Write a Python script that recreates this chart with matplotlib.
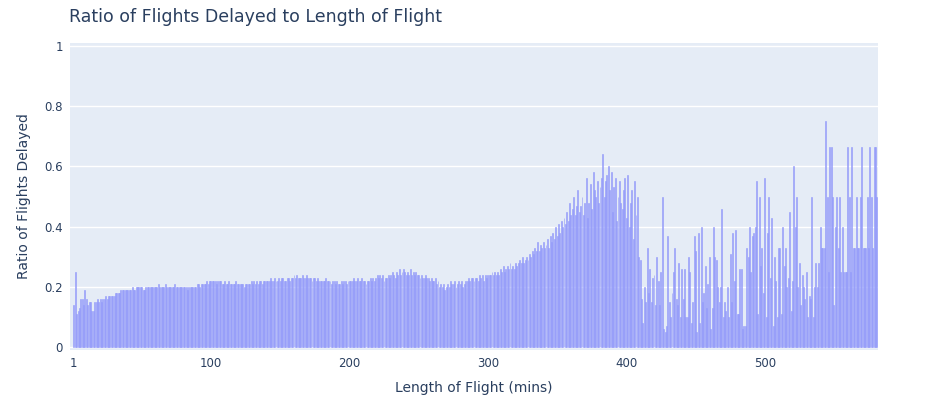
import matplotlib
matplotlib.use('Agg')
import matplotlib.pyplot as plt
import numpy as np

# ratio of delayed flights per flight length (mins), starting at 1 minute
ratio = [
    .14,.25,.11,.12,.13,.16,.16,.14,.19,.16,.14,.15,.15,.12,.12,.15,.15,.16,.15,.16,
    .15,.16,.16,.17,.16,.17,.17,.17,.17,.17,.18,.18,.18,.18,.19,.19,.19,.19,.19,.19,
    .19,.19,.20,.19,.19,.20,.20,.20,.20,.20,.19,.19,.20,.20,.20,.20,.20,.20,.20,.20,
    .20,.21,.20,.20,.20,.20,.21,.20,.20,.20,.20,.20,.20,.21,.20,.20,.20,.20,.20,.20,
    .20,.20,.19,.20,.20,.20,.20,.20,.20,.21,.21,.20,.21,.21,.21,.21,.22,.21,.22,.22,
    .22,.22,.22,.21,.22,.22,.22,.21,.21,.22,.21,.21,.22,.21,.21,.21,.21,.22,.21,.21,
    .21,.21,.21,.20,.21,.21,.21,.21,.22,.21,.22,.21,.22,.21,.22,.22,.21,.22,.22,.22,
    .22,.22,.23,.22,.22,.23,.22,.22,.23,.22,.23,.23,.22,.22,.23,.23,.22,.23,.23,.24,
    .23,.24,.23,.23,.23,.24,.23,.23,.24,.23,.23,.23,.22,.23,.23,.22,.23,.22,.22,.22,
    .22,.22,.23,.22,.22,.22,.21,.22,.22,.21,.22,.21,.21,.22,.21,.22,.22,.21,.22,.22,
    .22,.22,.23,.22,.22,.23,.22,.22,.23,.22,.22,.21,.22,.22,.23,.22,.23,.22,.23,.24,
    .23,.24,.23,.24,.22,.23,.23,.24,.23,.24,.25,.24,.23,.25,.24,.26,.24,.25,.26,.25,
    .24,.25,.24,.26,.24,.25,.24,.25,.24,.24,.23,.24,.23,.23,.24,.23,.23,.22,.23,.22,
    .22,.23,.21,.22,.20,.21,.20,.21,.19,.20,.21,.20,.22,.21,.21,.22,.20,.21,.22,.21,
    .22,.20,.21,.22,.22,.23,.22,.23,.23,.22,.23,.23,.22,.24,.23,.24,.22,.24,.23,.24,
    .24,.24,.25,.24,.25,.24,.25,.24,.26,.25,.27,.25,.26,.27,.26,.28,.26,.27,.26,.28,
    .27,.28,.29,.28,.30,.28,.29,.30,.29,.31,.30,.32,.31,.33,.32,.35,.32,.34,.33,.35,
    .33,.34,.36,.33,.37,.35,.38,.36,.40,.37,.41,.38,.42,.40,.43,.41,.45,.42,.48,.44,
    .46,.50,.44,.47,.52,.45,.47,.50,.44,.48,.56,.43,.48,.54,.46,.58,.52,.50,.55,.48,
    .53,.56,.64,.50,.55,.57,.60,.52,.58,.45,.53,.56,.42,.50,.55,.48,.46,.52,.56,.43,
    .57,.40,.48,.52,.36,.55,.44,.50,.30,.29,.16,.08,.20,.15,.33,.18,.26,.15,.23,.24,
    .14,.30,.22,.14,.25,.50,.06,.05,.07,.37,.15,.10,.18,.25,.33,.16,.14,.28,.10,.26,
    .16,.26,.10,.10,.30,.25,.08,.15,.37,.32,.05,.38,.08,.40,.15,.18,.27,.13,.21,.30,
    .06,.13,.40,.30,.29,.20,.15,.20,.46,.10,.15,.12,.20,.10,.31,.15,.38,.22,.39,.11,.11,.26,.26,.06,.07,
    .07,.33,.30,.40,.25,.37,.38,.40,.55,.11,.50,.27,.33,.18,.56,.10,.38,.50,.23,.43,.07,.30,.22,.10,.33,
    .33,.11,.40,.27,.33,.20,.23,.45,.12,.22,.60,.40,.50,.20,.28,.14,.24,.20,.16,.25,.10,.17,.16,.50,.10,
    .20,.28,.20,.28,.40,.33,.33,.33,.75,.50,.25,.665,.665,.50,.14,.40,.50,.33,.50,.25,.40,.25,.25,.25,.665,
    .50,.25,.665,.33,.33,.50,.33,.33,.50,.665,.33,.33,.33,.50,.33,.665,.50,.33,.665,.665,.50,
]
x_ticks = [1, 100, 200, 300, 400, 500]
y_ticks = [0, 0.2, 0.4, 0.6, 0.8, 1]
y_labels = ['0', '0.2', '0.4', '0.6', '0.8', '1']

text_color = '#2a3f5f'
fig = plt.figure(figsize=(9.34, 4.03), dpi=100)
ax = fig.add_axes([70/934, 1 - 350/403, (878-70)/934, (350-43)/403])
ax.set_facecolor('#E5ECF6')

length = np.arange(1, len(ratio) + 1)
ax.bar(length, ratio, width=0.7, color='#a3aafb', edgecolor='#8f97f9',
       linewidth=0.4, zorder=2)

ax.set_xlim(-1.8, len(ratio) + 0.8)
ax.set_ylim(-0.01, 1.01)
ax.set_xticks(x_ticks)
ax.set_yticks(y_ticks)
ax.set_yticklabels(y_labels)
ax.grid(axis='y', color='white', linewidth=1, zorder=1)
ax.set_axisbelow(True)
for s in ax.spines.values():
    s.set_visible(False)
ax.tick_params(length=0, labelsize=8.5, colors=text_color, pad=5)

ax.set_xlabel('Length of Flight (mins)', fontsize=10, color=text_color, labelpad=8)
ax.set_ylabel('Ratio of Flights Delayed', fontsize=10, color=text_color, labelpad=10)
fig.text(69/934, 1 - 17/403, 'Ratio of Flights Delayed to Length of Flight',
         fontsize=12.5, color=text_color, va='center')

fig.savefig('out.png', dpi=100)
